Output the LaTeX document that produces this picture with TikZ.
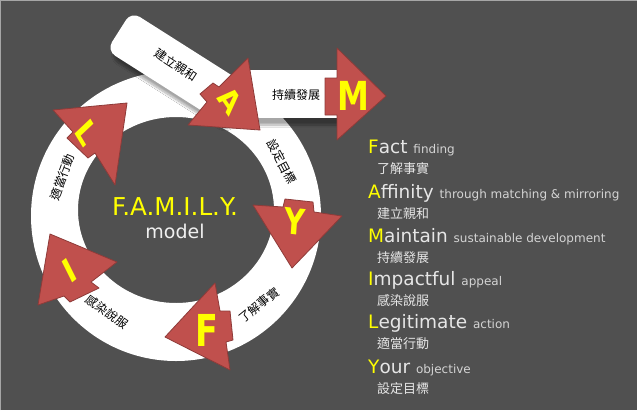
\documentclass[tikz,border=0pt]{standalone}
\usepackage{fontspec}
\usetikzlibrary{shadows.blur}
\setmainfont{DejaVu Sans}
\newfontfamily\cjk{Noto Sans CJK TC}
\definecolor{bg}{HTML}{505050}
\definecolor{arrowred}{HTML}{C0504D}
\definecolor{arrowline}{HTML}{8E3B39}
\definecolor{hl}{HTML}{FFFF00}
\definecolor{lightgray}{HTML}{E6E6E6}
\definecolor{subgray}{HTML}{D4D4D4}
\tikzset{
	redarrow/.style={fill=arrowred, draw=arrowline, line width=.8pt, line join=round},
	band/.style={fill=white, blur shadow={shadow xshift=3pt, shadow yshift=-7pt, shadow opacity=35, shadow blur steps=10}},
	letter/.style={text=hl, inner sep=0, xscale=.8, font=\bfseries\fontsize{#1}{#1}\selectfont},
	letter/.default=34,
	ringlabel/.style={inner sep=0, font=\cjk\fontsize{12}{12}\selectfont},
	listline/.style={anchor=base west, inner sep=0, text=lightgray},
}
\begin{document}
\begin{tikzpicture}[x=1pt,y=-1pt]
		\fill[bg] (0,0) rectangle (637,410);
		\useasboundingbox (0,0) rectangle (637,410);
		\draw[gray!70, line width=.8pt] (.4,410) -- (.4,.4) -- (637,.4);
		\fill[white, even odd rule] (176,216) circle[radius=145pt] (176,210) ellipse[x radius=98pt, y radius=93pt];
		\fill[band, rounded corners=10pt, rotate around={-32.4:(119,31)}] (119,8) rectangle (259,54);
		\fill[band] (245,70) rectangle (337,118);
		\draw[redarrow] (248,58) -- (260,130) -- (188,125) -- (207,102) -- (200,94) -- (213,83) -- (219,87) -- cycle;
		\draw[redarrow] (337,48) -- (386,96) -- (337,140) -- (337,115) -- (325,115) -- (325,78) -- (337,78) -- cycle;
		\draw[redarrow] (253,205) -- (283,207) -- (285,199) -- (313,202) -- (314,212) -- (342,216) -- (292,268) -- cycle;
		\draw[redarrow] (215,283) -- (220,311) -- (230,311) -- (233,340) -- (226,342) -- (230,370) -- (165,337) -- cycle;
		\draw[redarrow] (50,234) -- (117,262) -- (91,282) -- (99,288) -- (70,302) -- (64,296) -- (38,305) -- cycle;
		\draw[redarrow] (127,103) -- (53,110) -- (73,132) -- (67,138) -- (88,158) -- (95,153) -- (115,185) -- cycle;
		\node[letter=32, rotate=-50] (la) at (230,100) {A};
		\node[letter=40] (lm) at (353,96) {M};
		\node[letter=36, rotate=-5] (ly) at (295,222) {Y};
		\node[letter=44, xscale=.95] (lf) at (207,330) {F};
		\node[letter=34, rotate=32] (li) at (70,271) {I};
		\node[letter=34, rotate=-53] (ll) at (87,133) {L};
		\foreach \i/\t/\x/\y/\a in {1/建立親和/176/65/-33, 2/持續發展/296/95/0, 3/設定目標/282/162/-62, 4/了解事實/259/305/39, 5/感染說服/107/312/-36, 6/適當行動/62/177/70}
		{
			\node[ringlabel, rotate=\a] (rl\i) at (\x,\y) {\t};
		}
		\node[anchor=base, inner sep=0, text=hl, font=\fontsize{24.6}{26}\selectfont] (title) at (175,215) {F.A.M.I.L.Y.};
		\node[anchor=base, inner sep=0, text=white!88!gray, font=\fontsize{19}{20}\selectfont] (model) at (175,238) {model};
		\foreach \i/\y/\ini/\rest/\extra/\zh in {1/153/F/act/finding/了解事實, 2/198/A/ffinity/through matching \& mirroring/建立親和, 3/242/M/aintain/sustainable development/持續發展, 4/285/I/mpactful/appeal/感染說服, 5/328/L/egitimate/action/適當行動, 6/373/Y/our/objective/設定目標}
		{
			\node[listline, font=\fontsize{18.5}{20}\selectfont] (en\i) at (368,\y) {\textcolor{hl}{\ini}\rest\ {\fontsize{12}{14}\selectfont\color{subgray}\extra}};
			\node[listline, font=\cjk\fontsize{13}{13}\selectfont] (zh\i) at (377,\y+20) {\zh};
		}
	\end{tikzpicture}
\end{document}
